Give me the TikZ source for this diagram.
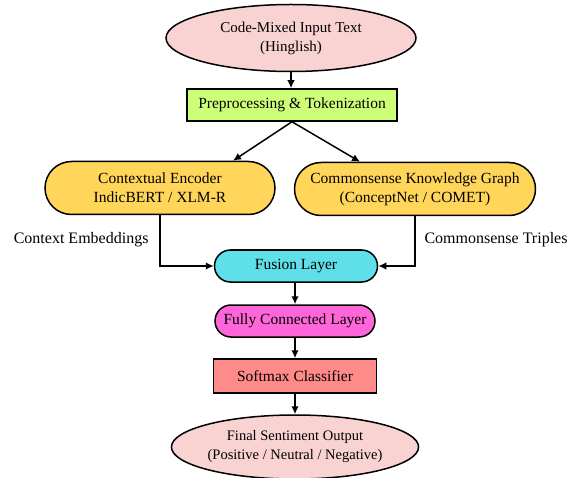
\documentclass[tikz,border=0pt]{standalone}
\usepackage{fontspec}
\setmainfont{Liberation Serif}
\usepackage{xcolor}
\usetikzlibrary{positioning,arrows.meta,calc,shapes.geometric,shapes.misc}

\definecolor{ovalpink}{HTML}{F9D2D2}
\definecolor{prepgreen}{HTML}{CCFF77}
\definecolor{encyellow}{HTML}{FFD65A}
\definecolor{fuscyan}{HTML}{5FE0E8}
\definecolor{fcmag}{HTML}{FF66D9}
\definecolor{smsalmon}{HTML}{FF8A8A}

\begin{document}
\begin{tikzpicture}[
  x=1pt, y=-1pt,
  oval/.style={ellipse, draw, line width=1.5pt, fill=ovalpink,
               align=center, inner sep=0pt, font=\fontsize{15}{19}\selectfont},
  sqbox/.style={draw, line width=1.5pt, align=center, inner sep=2pt,
                minimum height=32pt, font=\fontsize{15.5}{18}\selectfont},
  pill/.style={rounded rectangle, draw, line width=1.5pt, align=center,
               inner sep=2pt, font=\fontsize{15.5}{19}\selectfont},
  lbl/.style={font=\fontsize{16}{18}\selectfont},
  ar/.style={-{Latex[length=8pt,width=7.5pt]}, line width=1.5pt},
]
  \useasboundingbox (0,0) rectangle (575,478);

  %% input and preprocessing
  \node[oval, minimum width=250pt, minimum height=67pt] (inp) at (291,38)
    {Code-Mixed Input Text\\(Hinglish)};
  \node[sqbox, fill=prepgreen, minimum width=210pt] (pre) at (292,105)
    {Preprocessing \& Tokenization};

  %% two branches
  \node[pill, fill=encyellow, minimum width=234pt, minimum height=53pt] (enc) at (160,188)
    {Contextual Encoder\\IndicBERT / XLM-R};
  \node[pill, fill=encyellow, minimum width=245pt, minimum height=53pt] (ckg) at (415,189)
    {Commonsense Knowledge Graph\\(ConceptNet / COMET)};

  %% fusion stack
  \node[pill, fill=fuscyan, minimum width=167pt, minimum height=32pt] (fus) at (296,266)
    {Fusion Layer};
  \node[pill, fill=fcmag, minimum width=164pt, minimum height=32pt] (fc) at (295,321)
    {Fully Connected Layer};
  \node[sqbox, fill=smsalmon, minimum width=163pt, minimum height=34pt] (sm) at (295,376)
    {Softmax Classifier};
  \node[oval, minimum width=230pt, minimum height=64pt,
        font=\fontsize{14.5}{19}\selectfont] (out) at (295,447)
    {Final Sentiment Output\\(Positive / Neutral / Negative)};

  %% branch labels
  \node[lbl, anchor=east] (cemb) at (152,240) {Context Embeddings};
  \node[lbl, anchor=west] (ctri) at (421,240) {Commonsense Triples};

  %% arrows
  \draw[ar] (inp.south) -- (inp.south |- pre.north);
  \draw[ar] (pre.south) -- ([xshift=73pt]enc.north);
  \draw[ar] (pre.south) -- ([xshift=-55pt]ckg.north);
  \draw[ar] (enc.south) |- (fus.west);
  \draw[ar] (ckg.south) |- (fus.east);
  \foreach \a/\b in {fus/fc, fc/sm, sm/out}
    \draw[ar] (\a.south -| fc.south) -- (\b.north -| fc.south);
\end{tikzpicture}
\end{document}
